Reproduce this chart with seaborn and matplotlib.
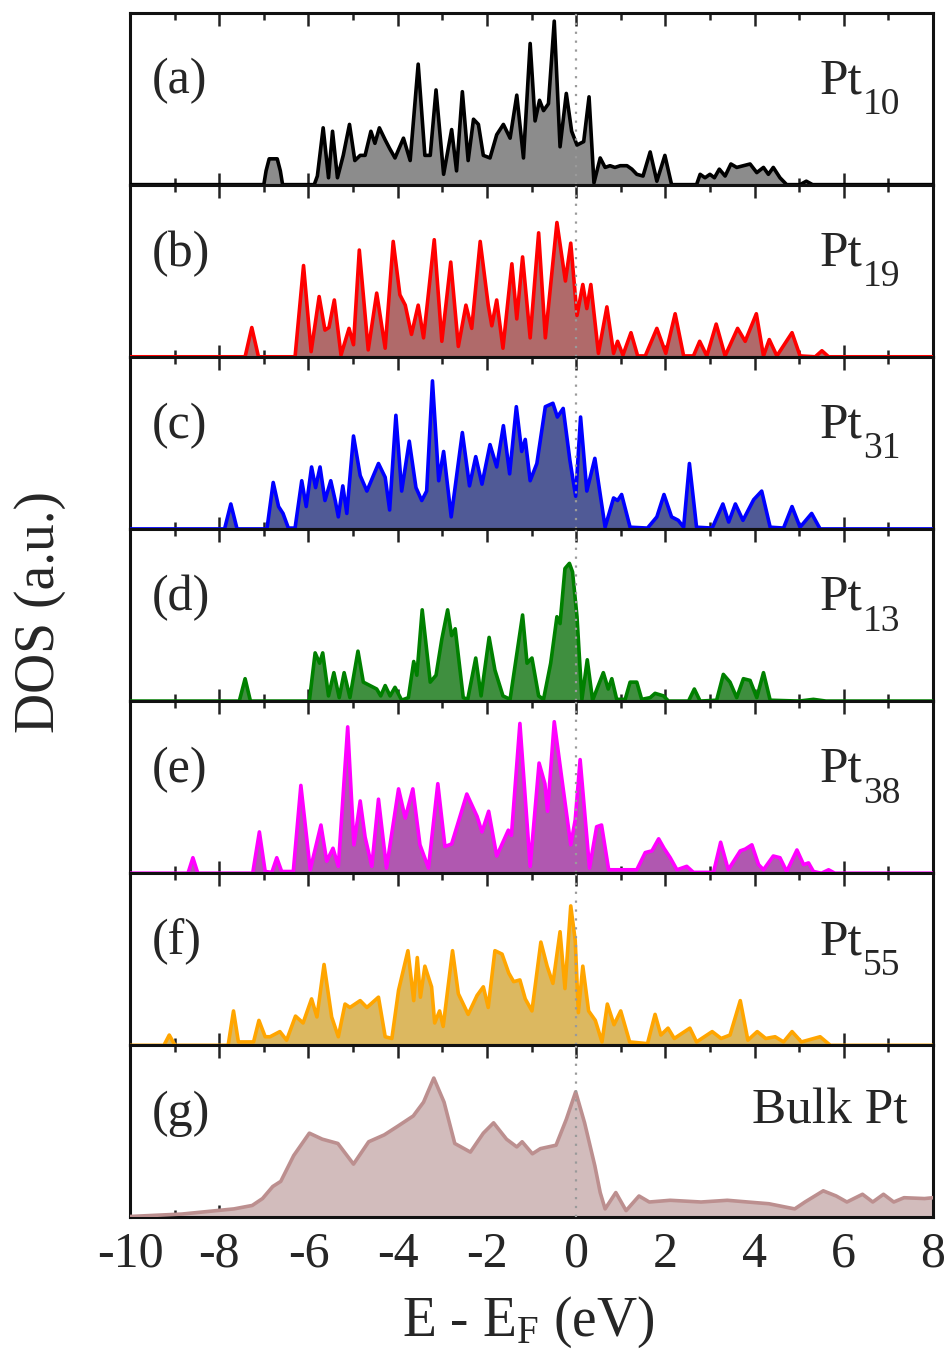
import numpy as np
import matplotlib
matplotlib.use("Agg")
import matplotlib.pyplot as plt
import seaborn as sns

# ---------------- data (E - E_F in eV, DOS in a.u.) ----------------
E_a = [-10, -7.0, -6.95, -6.88, -6.70, -6.63, -6.58, -5.87, -5.80, -5.67, -5.55, -5.46, -5.35, -5.22, -5.08, -4.96, -4.84, -4.73, -4.60, -4.51, -4.41, -4.28, -4.18, -4.06, -3.87, -3.72, -3.54, -3.39, -3.27, -3.14, -2.97, -2.79, -2.68, -2.55, -2.42, -2.30, -2.19, -2.08, -1.93, -1.78, -1.63, -1.48, -1.33, -1.18, -1.03, -0.92, -0.82, -0.73, -0.62, -0.49, -0.36, -0.22, -0.10, 0.02, 0.17, 0.29, 0.40, 0.54, 0.65, 0.76, 0.87, 0.99, 1.14, 1.25, 1.36, 1.50, 1.66, 1.81, 1.99, 2.14, 2.70, 2.78, 2.89, 3.00, 3.10, 3.21, 3.34, 3.47, 3.60, 3.75, 3.90, 4.05, 4.20, 4.31, 4.42, 4.57, 4.72, 5.02, 5.16, 5.30, 8]
D_a = [0, 0, 8, 15, 15, 8, 0, 0, 5, 33, 4, 31, 4, 17, 35, 14, 17, 17, 31, 24, 33, 26, 21, 15.5, 27, 14, 70, 17, 17, 55, 6, 32, 8, 54, 14, 38, 35, 17, 15.5, 29, 35, 27, 52, 15.5, 82, 37, 49, 43, 47, 95, 22, 53, 31, 23, 25, 51, 1, 15.5, 10, 11, 10, 11, 11, 9, 6, 5, 19, 2, 17, 0, 0, 6, 4, 6, 4, 9, 5, 12, 10, 11, 12, 7, 10, 6, 10, 4, 0, 0, 2, 0, 0]

E_b = [-10, -7.42, -7.27, -7.12, -6.30, -6.11, -5.94, -5.76, -5.63, -5.54, -5.42, -5.27, -5.09, -4.99, -4.86, -4.66, -4.47, -4.28, -4.10, -3.95, -3.83, -3.69, -3.54, -3.42, -3.33, -3.18, -3.01, -2.81, -2.64, -2.47, -2.34, -2.15, -1.97, -1.89, -1.78, -1.64, -1.44, -1.33, -1.20, -1.03, -0.84, -0.69, -0.43, -0.24, -0.12, 0.02, 0.15, 0.24, 0.33, 0.50, 0.69, 0.84, 0.93, 1.05, 1.23, 1.38, 1.55, 1.81, 2.01, 2.22, 2.41, 2.63, 2.77, 2.93, 3.14, 3.34, 3.62, 3.79, 4.04, 4.20, 4.33, 4.50, 4.84, 5.02, 5.36, 5.51, 5.66, 8]
D_b = [0, 0, 17, 0, 0, 53, 3, 35, 15.5, 17, 33, 1, 16.5, 7, 62, 4, 37, 5, 67, 36, 30, 13, 30, 11, 32, 68, 9, 55, 6, 30, 16.5, 67, 30, 18, 33, 5, 54, 22, 58, 11, 72, 11, 78, 44, 66, 24, 42, 28, 42, 2, 29, 2, 9, 1, 14, 0.5, 0.5, 16.5, 2, 25, 0.5, 0.5, 9, 0.5, 19, 0.5, 16.5, 9, 25, 0.5, 10, 0.5, 14, 0.5, 0, 3.5, 0, 0]

E_c = [-10, -7.88, -7.74, -7.60, -6.93, -6.79, -6.67, -6.57, -6.45, -6.30, -6.15, -6.05, -5.93, -5.84, -5.74, -5.63, -5.50, -5.40, -5.33, -5.23, -5.14, -4.99, -4.84, -4.69, -4.43, -4.28, -4.18, -4.04, -3.91, -3.74, -3.59, -3.46, -3.35, -3.22, -3.08, -2.97, -2.80, -2.55, -2.39, -2.25, -2.11, -1.93, -1.78, -1.63, -1.49, -1.34, -1.22, -1.14, -1.03, -0.88, -0.69, -0.52, -0.42, -0.29, -0.14, -0.01, 0.10, 0.24, 0.42, 0.65, 0.84, 0.93, 1.02, 1.21, 1.60, 1.81, 1.97, 2.14, 2.29, 2.41, 2.54, 2.70, 3.05, 3.29, 3.42, 3.57, 3.74, 3.98, 4.16, 4.35, 4.65, 4.84, 5.02, 5.28, 5.47, 8]
D_c = [0, 0, 14.5, 0, 0, 27, 13, 9, 0.5, 0.5, 28, 13, 36, 24, 36, 16.5, 28, 16.5, 7, 25, 9, 54, 31, 22, 38, 30, 11, 66, 22, 51, 24, 16.5, 22, 86, 28, 45, 7, 56, 25, 42, 26, 49, 36, 60, 32, 71, 45, 52, 28, 38, 71, 73, 65, 70, 40, 19, 65, 22, 41, 1, 18, 16.5, 20, 1, 0.5, 7, 20, 7, 5, 1, 38, 1, 0.5, 14.5, 4, 14.5, 5, 17, 22, 1, 0.5, 13, 1, 9, 0, 0]

E_d = [-10, -7.55, -7.42, -7.30, -5.98, -5.85, -5.75, -5.68, -5.55, -5.43, -5.31, -5.20, -5.07, -4.89, -4.77, -4.62, -4.47, -4.38, -4.28, -4.17, -4.06, -3.91, -3.76, -3.64, -3.57, -3.45, -3.27, -3.14, -3.01, -2.88, -2.79, -2.71, -2.53, -2.43, -2.25, -2.13, -1.95, -1.82, -1.64, -1.48, -1.20, -1.10, -0.99, -0.84, -0.73, -0.57, -0.43, -0.36, -0.25, -0.15, -0.08, 0.02, 0.13, 0.25, 0.37, 0.61, 0.72, 0.80, 0.91, 1.10, 1.21, 1.36, 1.47, 1.66, 1.77, 1.96, 2.07, 2.52, 2.65, 2.78, 3.15, 3.30, 3.45, 3.60, 3.75, 3.90, 4.05, 4.20, 4.35, 5.0, 5.32, 5.6, 8]
D_d = [0, 0, 13, 0, 0, 28, 22, 28, 3, 16.5, 2, 16.5, 2, 29, 11, 9, 7, 3, 9, 3, 8, 0.5, 2, 23, 15, 53, 11, 15, 36, 53, 38, 42, 2, 1, 25, 3, 37, 18, 3, 1, 50, 22, 25, 3, 1, 22, 49, 45, 77, 80, 75, 49, 1, 24, 0.5, 16.5, 7, 13, 1, 1, 11, 11, 1, 2, 4.5, 3, 0, 0, 7, 0, 0.5, 15.5, 11, 2, 13, 12, 2, 16.5, 0.5, 0, 1, 0, 0]

E_e = [-10, -8.70, -8.59, -8.48, -7.25, -7.10, -6.97, -6.82, -6.71, -6.60, -6.34, -6.17, -5.96, -5.72, -5.59, -5.45, -5.33, -5.12, -4.98, -4.84, -4.73, -4.58, -4.43, -4.25, -3.98, -3.83, -3.66, -3.50, -3.31, -3.10, -2.94, -2.79, -2.45, -2.22, -2.11, -1.96, -1.78, -1.52, -1.45, -1.26, -1.03, -0.83, -0.70, -0.64, -0.49, -0.31, -0.12, -0.02, 0.09, 0.30, 0.46, 0.57, 0.73, 1.36, 1.55, 1.70, 1.85, 1.97, 2.11, 2.26, 2.48, 2.63, 3.08, 3.24, 3.41, 3.68, 3.79, 3.94, 4.09, 4.20, 4.42, 4.57, 4.72, 4.95, 5.10, 5.21, 5.32, 5.50, 5.66, 5.80, 8]
D_e = [0, 0, 9, 0, 0, 24, 1, 0.5, 9, 1, 1, 51, 2, 28, 7, 14.5, 4, 85, 16.5, 42, 21, 4, 43, 3, 49, 32, 49, 16.5, 3, 52, 15.5, 17, 46, 33, 24, 36, 10, 25, 22, 87, 4, 64, 52, 36, 88, 53, 16.5, 31, 66, 3, 27, 28, 2, 2, 12, 13, 20, 14.5, 9, 2, 4, 0.5, 0.5, 18, 2, 13, 14, 16.5, 5, 2, 10, 9, 1, 13.5, 5, 6, 1, 0, 2, 0, 0]

E_f = [-10, -9.24, -9.12, -8.99, -7.80, -7.68, -7.57, -7.23, -7.11, -6.97, -6.86, -6.64, -6.49, -6.29, -6.12, -5.93, -5.81, -5.65, -5.48, -5.33, -5.18, -5.07, -4.84, -4.69, -4.43, -4.28, -4.13, -3.98, -3.77, -3.64, -3.56, -3.49, -3.39, -3.24, -3.17, -3.06, -2.98, -2.77, -2.64, -2.42, -2.22, -2.08, -1.97, -1.82, -1.66, -1.51, -1.40, -1.26, -1.14, -0.99, -0.79, -0.65, -0.52, -0.36, -0.25, -0.12, -0.02, 0.05, 0.15, 0.28, 0.43, 0.58, 0.70, 0.85, 1.00, 1.20, 1.60, 1.77, 1.90, 2.06, 2.20, 2.55, 2.70, 3.05, 3.25, 3.45, 3.68, 3.85, 4.06, 4.25, 4.46, 4.65, 4.84, 5.05, 5.47, 5.70, 8]
D_f = [0, 0, 6, 0, 0, 20, 2, 2, 14.5, 5, 5, 8, 3, 17, 13, 27, 16.5, 47, 16.5, 5, 24, 22, 26, 22, 28, 5, 4, 32, 55, 26, 51, 28, 46, 34, 13, 20, 11, 55, 30, 18, 29, 34, 22, 55, 53, 42, 37, 38, 27, 20, 60, 46, 36, 66, 33, 81, 61, 19, 46, 20, 14.5, 2, 24, 12, 20, 2, 1, 18, 6, 10, 4, 10, 2, 8, 4, 6, 26, 3, 8, 4, 5, 2, 8, 2, 5, 0, 0]

E_g = [-10, -8.84, -7.67, -7.26, -7.03, -6.80, -6.62, -6.33, -5.98, -5.69, -5.34, -4.99, -4.65, -4.30, -4.00, -3.65, -3.42, -3.19, -2.96, -2.72, -2.37, -2.08, -1.85, -1.56, -1.33, -1.21, -0.98, -0.80, -0.45, -0.22, -0.01, 0.19, 0.42, 0.54, 0.65, 0.89, 1.12, 1.41, 1.64, 2.11, 2.80, 3.39, 3.85, 4.32, 4.90, 5.13, 5.54, 5.83, 6.07, 6.42, 6.65, 6.89, 7.12, 7.35, 7.81, 8]
D_g = [0.6, 2, 5, 7, 11, 18, 21, 36, 49, 45.5, 43, 31, 44, 48, 53, 59, 67, 81, 67, 43, 38, 49, 55, 45.5, 41, 44, 37, 40, 42, 57, 73, 55, 30, 14.5, 5, 14.5, 4, 12.5, 9, 10, 9, 10, 9, 8, 5, 9, 15.5, 12.5, 9, 13.5, 9, 13.5, 9, 11.5, 11, 11.5]

panel_tags = ["(a)", "(b)", "(c)", "(d)", "(e)", "(f)", "(g)"]
cluster_sizes = ["10", "19", "31", "13", "38", "55", None]
line_colors = ["#000000", "#ff0000", "#0000ff", "#008000", "#ff00ff", "#ffa500", "#bc8f8f"]
fill_colors = ["#8c8c8c", "#b06a6a", "#505a96", "#3f8f3f", "#b058b0", "#dcb860", "#d2bcbc"]
xticks = [-10, -8, -6, -4, -2, 0, 2, 4, 6, 8]

series = [(E_a, D_a), (E_b, D_b), (E_c, D_c), (E_d, D_d), (E_e, D_e), (E_f, D_f), (E_g, D_g)]

# ---------------- style ----------------
sns.set_style("ticks")
plt.rcParams["font.family"] = ["Liberation Serif", "DejaVu Serif"]
plt.rcParams["mathtext.fontset"] = "custom"
plt.rcParams["mathtext.rm"] = "Liberation Serif"
plt.rcParams["mathtext.it"] = "Liberation Serif:italic"
plt.rcParams["mathtext.default"] = "rm"
plt.rcParams["axes.unicode_minus"] = False

fig = plt.figure(figsize=(9.51, 13.63), dpi=100)
gs = fig.add_gridspec(7, 1, left=130 / 951, right=933 / 951,
                      top=1 - 12.5 / 1363, bottom=1 - 1217.5 / 1363, hspace=0)

for i, (E, D) in enumerate(series):
    ax = fig.add_subplot(gs[i, 0])
    ax.fill_between(E, D, 0, facecolor=fill_colors[i], edgecolor="none",
                    linewidth=0, zorder=1)
    sns.lineplot(x=E, y=D, ax=ax, color=line_colors[i], lw=2.6,
                 sort=False, estimator=None, zorder=3)
    for ln in ax.lines:
        ln.set_solid_joinstyle("round")
        ln.set_solid_capstyle("round")
    ax.axvline(0, color="#9a9a9a", ls=(0, (1, 3)), lw=1.6, zorder=4)
    ax.set_xlim(-10, 8)
    ax.set_ylim(0, 100)
    ax.set_yticks([])
    ax.set_xticks(xticks)
    ax.set_xticks(np.arange(-9, 8, 2), minor=True)
    ax.tick_params(axis="x", which="both", direction="in", top=True, bottom=True,
                   width=1.8, color="#222222")
    ax.tick_params(axis="x", which="major", length=9)
    ax.tick_params(axis="x", which="minor", length=5)
    for s in ax.spines.values():
        s.set_linewidth(2.2)
        s.set_color("#111111")
    ax.set_ylabel("")
    ax.set_xlabel("")
    if i < 6:
        ax.set_xticklabels([])
    else:
        ax.set_xticklabels([str(t) for t in xticks], fontsize=36)
        ax.tick_params(axis="x", which="major", pad=10)
    ax.text(0.027, 0.60, panel_tags[i], transform=ax.transAxes, fontsize=36,
            ha="left", va="center")
    if cluster_sizes[i] is not None:
        pt = ax.text(0.859, 0.53, "Pt", transform=ax.transAxes, fontsize=37,
                     ha="left", va="baseline")
        ax.annotate(cluster_sizes[i], xy=(1, 0), xycoords=pt, xytext=(0.5, -7),
                    textcoords="offset points", fontsize=27, ha="left",
                    va="baseline")
    else:
        ax.text(0.968, 0.62, "Bulk Pt", transform=ax.transAxes, fontsize=37,
                ha="right", va="center")

fig.text((130 / 951 + 933 / 951) / 2 - 0.003, 1 - 1322 / 1363,
         r"E - E$_{\mathrm{F}}$ (eV)", fontsize=40, ha="center", va="center")
fig.text(40 / 951, 1 - 612 / 1363, "DOS (a.u.)", fontsize=40, rotation=90,
         ha="center", va="center")

fig.savefig("out.png", dpi=100)
